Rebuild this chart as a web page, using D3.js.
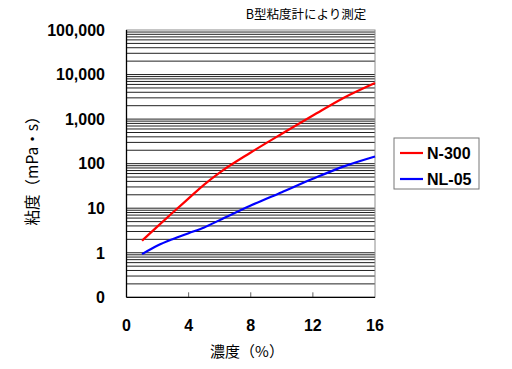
<!DOCTYPE html>
<html><head><meta charset="utf-8">
<script src="https://cdn.jsdelivr.net/npm/d3@7/dist/d3.min.js"></script>
<style>body{margin:0;background:#fff;}svg{display:block;}</style>
</head><body>
<svg id="c" width="512" height="369"></svg>
<script>
const concentration = [1, 2, 3, 4, 5, 6, 8, 10, 12, 14, 16];
const n300 = [1.86, 3.9, 8.1, 16.6, 33.9, 63, 178, 468, 1200, 3020, 6460];
const nl05 = [0.93, 1.45, 2.04, 2.75, 3.7, 5.4, 11.5, 22.9, 45.7, 87, 145];
const seriesNames = ["N-300", "NL-05"];
const seriesColors = ["#ff0000", "#0000ff"];
const xTicks = [0, 4, 8, 12, 16];
const yTicks = [0.1, 1, 10, 100, 1000, 10000, 100000];
const yTickLabels = ["0", "1", "10", "100", "1,000", "10,000", "100,000"];
const title = "B型粘度計により測定";
const xTitle = "濃度（%）";
const yTitle = "粘度（mPa・s）";

const svg = d3.select("#c");
const L = 126.5, R = 375, T = 30, B = 297.3;
const x = d3.scaleLinear().domain([0, 16]).range([L, R]);
const y = d3.scaleLog().domain([0.1, 100000]).range([B, T]);

// minor + major grid
const grid = [];
for (let e = -1; e < 5; e++) for (let m = 1; m <= 9; m++) {
  const v = m * Math.pow(10, e);
  if (v > 0.1 && v <= 100000) grid.push(v);
}
svg.append("g").selectAll("line").data(grid).join("line")
  .attr("x1", L).attr("x2", R)
  .attr("y1", d => y(d)).attr("y2", d => y(d))
  .attr("stroke", "#222").attr("stroke-width", 1);

// plot border
svg.append("rect").attr("x", L).attr("y", T).attr("width", R - L).attr("height", B - T)
  .attr("fill", "none").attr("stroke", "#8c8c8c").attr("stroke-width", 1);

// x axis ticks inside
svg.append("g").selectAll("line").data(xTicks.slice(1, -1)).join("line")
  .attr("x1", d => x(d)).attr("x2", d => x(d))
  .attr("y1", B).attr("y2", B - 5)
  .attr("stroke", "#666").attr("stroke-width", 1);

// axes lines
svg.append("line").attr("x1", L).attr("x2", R).attr("y1", B).attr("y2", B).attr("stroke", "#000").attr("stroke-width", 1.3);
svg.append("line").attr("x1", L).attr("x2", L).attr("y1", T).attr("y2", B).attr("stroke", "#000").attr("stroke-width", 1.3);

const numFont = "'Liberation Sans', Arial, sans-serif";
const cjkFont = "'Noto Sans CJK JP', sans-serif";

// y labels
svg.append("g").selectAll("text").data(yTicks).join("text")
  .attr("x", 105).attr("y", d => y(d)).attr("dy", "0.36em")
  .attr("text-anchor", "end").attr("font-family", numFont).attr("font-weight", "bold")
  .attr("font-size", 16).text((d, i) => yTickLabels[i]);

// x labels
svg.append("g").selectAll("text").data(xTicks).join("text")
  .attr("x", d => x(d)).attr("y", 325).attr("dy", "0.36em")
  .attr("text-anchor", "middle").attr("font-family", numFont).attr("font-weight", "bold")
  .attr("font-size", 16).text(d => d);

// series
const line = d3.line().x(d => x(d[0])).y(d => y(d[1])).curve(d3.curveMonotoneX);
[n300, nl05].forEach((vals, i) => {
  svg.append("path").datum(concentration.map((c, k) => [c, vals[k]]))
    .attr("d", line).attr("fill", "none")
    .attr("stroke", seriesColors[i]).attr("stroke-width", 2.2);
});

// titles
svg.append("text").attr("x", 306).attr("y", 15).attr("dy", "0.35em")
  .attr("text-anchor", "middle").attr("font-family", cjkFont).attr("font-size", 12.5).text(title);
svg.append("text").attr("x", 247).attr("y", 352).attr("dy", "0.35em")
  .attr("text-anchor", "middle").attr("font-family", cjkFont).attr("font-size", 15).text(xTitle);
svg.append("text").attr("transform", "translate(33,167) rotate(-90)").attr("dy", "0.35em")
  .attr("text-anchor", "middle").attr("font-family", cjkFont).attr("font-size", 15.5).text(yTitle);

// legend
const lg = svg.append("g").attr("transform", "translate(394,138)");
lg.append("rect").attr("width", 85).attr("height", 51).attr("fill", "#fff")
  .attr("stroke", "#777").attr("stroke-width", 1);
seriesNames.forEach((n, i) => {
  const yy = 15 + i * 26;
  lg.append("line").attr("x1", 6).attr("x2", 29).attr("y1", yy).attr("y2", yy)
    .attr("stroke", seriesColors[i]).attr("stroke-width", 2.2);
  lg.append("text").attr("x", 33).attr("y", yy).attr("dy", "0.36em")
    .attr("font-family", numFont).attr("font-weight", "bold").attr("font-size", 16).text(n);
});
</script>
</body></html>
